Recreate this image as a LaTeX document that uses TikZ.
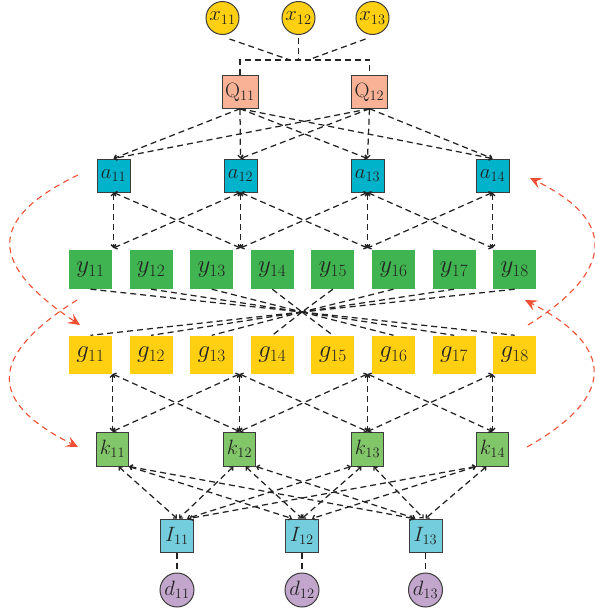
\documentclass[tikz,border=0pt]{standalone}
\usetikzlibrary{arrows.meta}

\definecolor{cGold}{RGB}{255,208,18}
\definecolor{cSalmon}{RGB}{249,178,150}
\definecolor{cCyan}{RGB}{0,178,202}
\definecolor{cGreen}{RGB}{64,180,80}
\definecolor{cLime}{RGB}{130,198,106}
\definecolor{cSky}{RGB}{116,205,220}
\definecolor{cLilac}{RGB}{194,166,204}
\definecolor{cEdge}{RGB}{60,60,60}
\definecolor{cLink}{RGB}{35,35,35}
\definecolor{cText}{RGB}{35,35,35}
\definecolor{cLoop}{RGB}{240,78,50}

\begin{document}
\begin{tikzpicture}[x=1pt,y=-1pt,
  lbl/.style={font=\fontsize{21}{24}\selectfont, text=cText, inner sep=0pt},
  biglbl/.style={font=\fontsize{24}{27}\selectfont, text=cText, inner sep=0pt},
  box/.style={rectangle, lbl, draw=cEdge, line width=1pt},
  flat/.style={rectangle, biglbl},
  ring/.style={circle, lbl, draw=cEdge, line width=1pt, minimum size=33pt},
  link/.style={draw=cLink, line width=1.25pt, dash pattern=on 6pt off 4pt},
  onehead/.style={-{Straight Barb[length=2.5pt,width=5pt]}},
  twohead/.style={{Straight Barb[length=2.5pt,width=5pt]}-{Straight Barb[length=2.5pt,width=5pt]}},
  loop/.style={draw=cLoop, line width=1.1pt, dash pattern=on 6pt off 4.5pt,
    -{Stealth[length=12pt,width=11pt,inset=5pt]}}
]
\useasboundingbox (0,0) rectangle (595,614);

% ---- input layer ----
\node[ring, fill=cGold] (x1) at (222.5,18) {$x_{11}$};
\node[ring, fill=cGold] (x2) at (298.5,18) {$x_{12}$};
\node[ring, fill=cGold] (x3) at (372.5,18) {$x_{13}$};

\node[box, fill=cSalmon, minimum width=36pt, minimum height=32.5pt] (Q1) at (240,92) {$\mathrm{Q}_{11}$};
\node[box, fill=cSalmon, minimum width=36pt, minimum height=32.5pt] (Q2) at (369.5,92) {$\mathrm{Q}_{12}$};

% ---- a layer ----
\foreach \i/\x in {1/113.5,2/240.5,3/367.5,4/492.5}{
  \node[box, fill=cCyan, minimum width=33pt, minimum height=33pt] (a\i) at (\x,175.5) {$a_{1\i}$};
  \coordinate (ya\i) at (\x,248);
}

% ---- y and g layers ----
\foreach \i/\x in {1/90.5,2/151.1,3/211.7,4/272.3,5/332.9,6/393.5,7/454.1,8/514.7}{
  \node[flat, fill=cGreen, minimum width=43pt, minimum height=39pt] (y\i) at (\x,269.5) {$y_{1\i}$};
  \node[flat, fill=cGold, minimum width=43pt, minimum height=38pt] (g\i) at (\x,354.5) {$g_{1\i}$};
}
\coordinate (hub) at (302,312);

% ---- k layer ----
\foreach \i/\x in {1/112.5,2/239.5,3/367.5,4/492.5}{
  \node[box, fill=cLime, minimum width=32pt, minimum height=34pt] (k\i) at (\x,449) {$k_{1\i}$};
  \coordinate (gk\i) at (\x,374);
}

% ---- I and d layers ----
\foreach \i/\x in {1/177,2/302,3/425.5}{
  \node[box, fill=cSky, minimum width=33pt, minimum height=33pt] (I\i) at (\x,535.5) {$I_{1\i}$};
  \node[ring, fill=cLilac, minimum size=34pt] (d\i) at (\x,590) {$d_{1\i}$};
  \draw[link] (I\i.south) -- (d\i.north);
}

% ---- bus from x to Q ----
\coordinate (busL) at (240,60);
\coordinate (busR) at (369.5,60);
\coordinate (busA) at (290,60);
\coordinate (busB) at (298.5,60);
\coordinate (busC) at (308,60);
\draw[link] ([shift={(7,4)}]x1.south) -- (busA);
\draw[link] ([shift={(0,3)}]x2.south) -- (busB);
\draw[link] ([shift={(-7,4)}]x3.south) -- (busC);
\draw[link] (Q1.north) -- (busL) -- (busR) -- (Q2.north);

% ---- Q to a ----
\foreach \q in {1,2}{
  \foreach \i in {1,2,3,4}{
    \draw[link,onehead] (Q\q.south) -- (a\i.north);
  }
}

% ---- a to y row ----
\foreach \i/\j in {1/1,1/2,2/1,2/2,2/3,3/2,3/3,3/4,4/3,4/4}{
  \draw[link,twohead] (a\i.south) -- (ya\j);
}

% ---- y through hub to g ----
\foreach \i in {1,...,8}{
  \draw[link] (y\i.south) -- (hub);
  \draw[link] (hub) -- (g\i.north);
}

% ---- g row to k ----
\foreach \j/\i in {1/1,1/2,2/1,2/2,2/3,3/2,3/3,3/4,4/3,4/4}{
  \draw[link,twohead] (gk\j) -- (k\i.north);
}

% ---- k to I ----
\draw[link,twohead] ([xshift=6pt]k1.south) -- (I1.north);
\draw[link,twohead] (k1.south east) -- ([xshift=-10pt]I2.north);
\draw[link,twohead] (k1.south east) -- ([xshift=-12pt]I3.north);
\draw[link,twohead] ([xshift=-6pt]k2.south) -- ([xshift=2pt]I1.north);
\draw[link,twohead] ([xshift=6pt]k2.south) -- (I2.north);
\draw[link,twohead] (k2.south east) -- ([xshift=-10pt]I3.north);
\draw[link,twohead] (k3.south west) -- ([xshift=10pt]I1.north);
\draw[link,twohead] ([xshift=-6pt]k3.south) -- (I2.north);
\draw[link,twohead] ([xshift=6pt]k3.south) -- ([xshift=-2pt]I3.north);
\draw[link,twohead] (k4.south west) -- ([xshift=12pt]I1.north);
\draw[link,twohead] (k4.south west) -- ([xshift=10pt]I2.north);
\draw[link,twohead] ([xshift=-6pt]k4.south) -- (I3.north);

% ---- feedback loops ----
\coordinate (L1s) at (78,175);  \coordinate (L1e) at (80,325);
\coordinate (L2s) at (77,300);  \coordinate (L2e) at (78,447);
\coordinate (R1s) at (528,325); \coordinate (R1e) at (530,178);
\coordinate (R2s) at (527,447); \coordinate (R2e) at (525,300);
\draw[loop] (L1s) .. controls (-15,220) and (-10,265) .. (L1e);
\draw[loop] (L2s) .. controls (-15,358) and (-10,403) .. (L2e);
\draw[loop] (R1s) .. controls (616,270) and (616,220) .. (R1e);
\draw[loop] (R2s) .. controls (616,397) and (616,347) .. (R2e);
\end{tikzpicture}
\end{document}
